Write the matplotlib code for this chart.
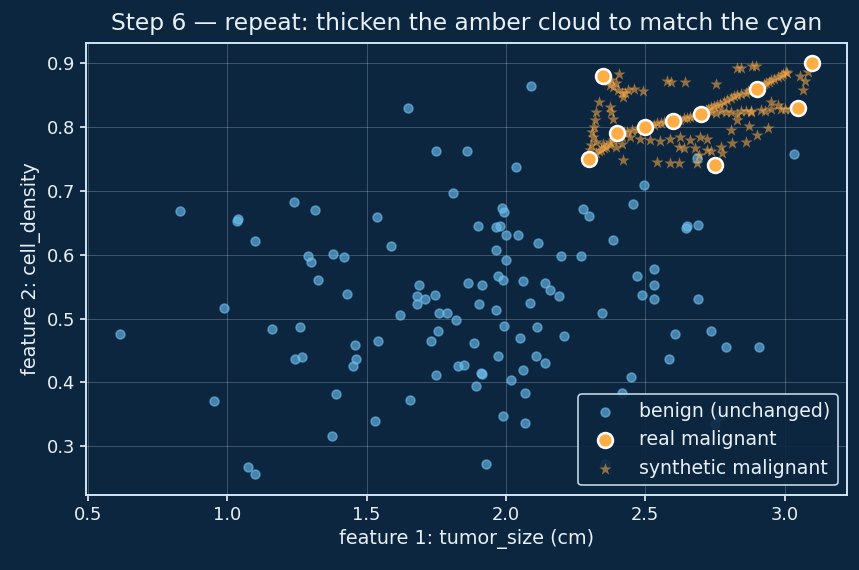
import matplotlib
matplotlib.use("Agg")
import matplotlib.pyplot as plt

# colours
bg = "#0c2640"
fg = "#e8f0f8"
edge = "#d3e6f7"
blue = "#6ec0f0"
amber = "#ffad45"

# benign points (unchanged)
benign_x = [0.617, 0.83, 0.954, 0.99, 1.036, 1.04, 1.073, 1.098, 1.10, 1.16, 1.24, 1.243, 1.27, 1.26,
            1.29, 1.30, 1.315, 1.326, 1.377, 1.38, 1.39, 1.42, 1.43, 1.452, 1.463, 1.457, 1.53, 1.536,
            1.54, 1.586, 1.62, 1.65, 1.655, 1.68, 1.68, 1.69, 1.71, 1.73, 1.745, 1.75, 1.75, 1.757,
            1.76, 1.79, 1.81, 1.82, 1.83, 1.85, 1.86, 1.865, 1.887, 1.894, 1.90, 1.905, 1.91, 1.915,
            1.915, 1.93, 1.966, 1.966, 1.966, 1.97, 1.97, 1.98, 1.985, 1.99, 1.99, 1.995, 1.995, 2.0,
            2.0, 2.02, 2.035, 2.045, 2.05, 2.06, 2.06, 2.07, 2.07, 2.085, 2.09, 2.107, 2.11, 2.115,
            2.14, 2.14, 2.16, 2.19, 2.197, 2.21, 2.27, 2.277, 2.30, 2.345, 2.357, 2.385, 2.418, 2.45,
            2.458, 2.472, 2.487, 2.494, 2.53, 2.53, 2.53, 2.585, 2.606, 2.645, 2.65, 2.686, 2.69,
            2.69, 2.737, 2.75, 2.77, 2.79, 2.91, 3.033]
benign_y = [0.475, 0.669, 0.370, 0.517, 0.653, 0.656, 0.267, 0.256, 0.622, 0.484, 0.683, 0.437, 0.439, 0.486,
            0.598, 0.589, 0.670, 0.561, 0.316, 0.601, 0.381, 0.597, 0.539, 0.425, 0.437, 0.459, 0.339, 0.659,
            0.464, 0.614, 0.505, 0.830, 0.372, 0.523, 0.535, 0.552, 0.531, 0.464, 0.537, 0.763, 0.412, 0.480,
            0.508, 0.509, 0.697, 0.498, 0.425, 0.427, 0.763, 0.556, 0.462, 0.395, 0.645, 0.522, 0.414, 0.413,
            0.553, 0.272, 0.513, 0.608, 0.644, 0.566, 0.441, 0.645, 0.673, 0.561, 0.348, 0.667, 0.489, 0.631,
            0.592, 0.403, 0.737, 0.631, 0.469, 0.559, 0.420, 0.384, 0.336, 0.525, 0.864, 0.441, 0.486, 0.619,
            0.556, 0.431, 0.545, 0.535, 0.598, 0.472, 0.598, 0.672, 0.660, 0.508, 0.272, 0.623, 0.383, 0.409,
            0.680, 0.567, 0.537, 0.710, 0.578, 0.553, 0.531, 0.437, 0.475, 0.642, 0.645, 0.752, 0.647,
            0.530, 0.480, 0.334, 0.347, 0.456, 0.456, 0.758]

# real malignant points
real_x = [2.30, 2.35, 2.40, 2.50, 2.60, 2.70, 2.75, 2.90, 3.05, 3.10]
real_y = [0.75, 0.88, 0.79, 0.80, 0.81, 0.82, 0.74, 0.86, 0.83, 0.90]

# synthetic malignant points
synth_x = [2.405, 2.397, 2.379, 2.385, 2.403, 2.415, 2.427, 2.439, 2.460, 2.491, 2.419, 2.365, 2.372,
           2.325, 2.321, 2.310, 2.313, 2.307, 2.301, 2.373, 2.379, 2.385, 2.318, 2.333,
           2.578, 2.592, 2.644, 2.753, 2.829, 2.843, 2.882, 2.897,
           2.994, 3.006, 3.054, 3.072, 3.084, 3.066,
           2.916, 2.934, 2.952, 2.976, 2.988, 3.010, 2.945, 2.963,
           2.325, 2.343, 2.361, 2.385, 2.415, 2.433, 2.451, 2.469, 2.518, 2.542, 2.566, 2.614,
           2.638, 2.662, 2.686, 2.717, 2.735, 2.759, 2.783, 2.807, 2.831, 2.861, 2.879, 2.928,
           2.335, 2.352, 2.372, 2.395, 2.425, 2.478, 2.492, 2.530, 2.555, 2.585, 2.625, 2.650,
           2.674, 2.725, 2.748, 2.770, 2.795, 2.818, 2.845, 2.870,
           2.735, 2.771, 2.807, 2.843, 2.879, 2.915, 2.952, 2.988, 3.018, 2.755, 2.790, 2.860, 2.930, 3.000,
           2.445, 2.482, 2.518, 2.554, 2.590, 2.626, 2.662, 2.698, 2.723,
           2.620, 2.638, 2.680, 2.723, 2.771, 2.777, 2.735, 2.692, 2.686, 2.419, 2.542, 2.590, 2.620,
           2.807, 2.831, 2.873, 2.903, 2.940, 2.813, 2.861, 2.952, 2.976, 2.831, 2.879,
           2.325, 2.349, 2.373, 2.397, 2.415]
synth_y = [0.884, 0.869, 0.874, 0.863, 0.858, 0.853, 0.854, 0.858, 0.860, 0.857, 0.847, 0.872, 0.866,
           0.824, 0.811, 0.793, 0.785, 0.772, 0.764, 0.832, 0.824, 0.812, 0.800, 0.840,
           0.872, 0.871, 0.870, 0.867, 0.893, 0.893, 0.895, 0.895,
           0.884, 0.886, 0.880, 0.873, 0.886, 0.858,
           0.863, 0.869, 0.874, 0.878, 0.880, 0.885, 0.871, 0.876,
           0.759, 0.764, 0.769, 0.780, 0.785, 0.793, 0.795, 0.796, 0.802, 0.806, 0.808, 0.812,
           0.814, 0.816, 0.819, 0.827, 0.832, 0.834, 0.840, 0.845, 0.850, 0.854, 0.858, 0.867,
           0.762, 0.768, 0.776, 0.789, 0.792, 0.798, 0.800, 0.804, 0.807, 0.809, 0.811, 0.814,
           0.818, 0.829, 0.833, 0.836, 0.843, 0.848, 0.852, 0.856,
           0.824, 0.826, 0.824, 0.826, 0.826, 0.827, 0.828, 0.828, 0.829, 0.822, 0.823, 0.825, 0.826, 0.829,
           0.785, 0.782, 0.780, 0.779, 0.782, 0.785, 0.780, 0.785, 0.782,
           0.769, 0.767, 0.767, 0.764, 0.769, 0.759, 0.762, 0.756, 0.743, 0.749, 0.745, 0.744, 0.743,
           0.795, 0.811, 0.801, 0.788, 0.798, 0.775, 0.777, 0.840, 0.834, 0.821, 0.824,
           0.777, 0.774, 0.772, 0.769, 0.774]

plt.rcParams["font.family"] = ["DejaVu Sans"]

fig, ax = plt.subplots(figsize=(8.59, 5.7), dpi=100)
fig.patch.set_facecolor(bg)
ax.set_facecolor(bg)

ax.scatter(benign_x, benign_y, s=40, color=blue, alpha=0.6, linewidths=1.2,
           label="benign (unchanged)", zorder=2)
ax.scatter(real_x, real_y, s=115, color=amber, edgecolors="white", linewidths=1.8,
           label="real malignant", zorder=4)
ax.scatter(synth_x, synth_y, s=85, marker="*", color=amber, alpha=0.55, linewidths=0,
           label="synthetic malignant", zorder=3)

ax.grid(True, color="white", alpha=0.22, linewidth=0.7)
ax.set_axisbelow(True)

ax.set_title("Step 6 \u2014 repeat: thicken the amber cloud to match the cyan", color=fg,
             fontsize=16.8, pad=9)
ax.set_xlabel("feature 1: tumor_size (cm)", color=fg, fontsize=13.8)
ax.set_ylabel("feature 2: cell_density", color=fg, fontsize=13.8)
ax.tick_params(colors=fg, labelsize=12.9, width=1.2, length=4.5)
for sp in ax.spines.values():
    sp.set_color(edge)
    sp.set_linewidth(1.4)

leg = ax.legend(loc="lower right", fontsize=13.6, facecolor=bg, edgecolor=edge, framealpha=0.9)
leg.get_frame().set_linewidth(1.2)
for t in leg.get_texts():
    t.set_color(fg)

fig.subplots_adjust(left=0.100, right=0.986, top=0.925, bottom=0.132)
fig.savefig("out.png", dpi=100, facecolor=bg)
